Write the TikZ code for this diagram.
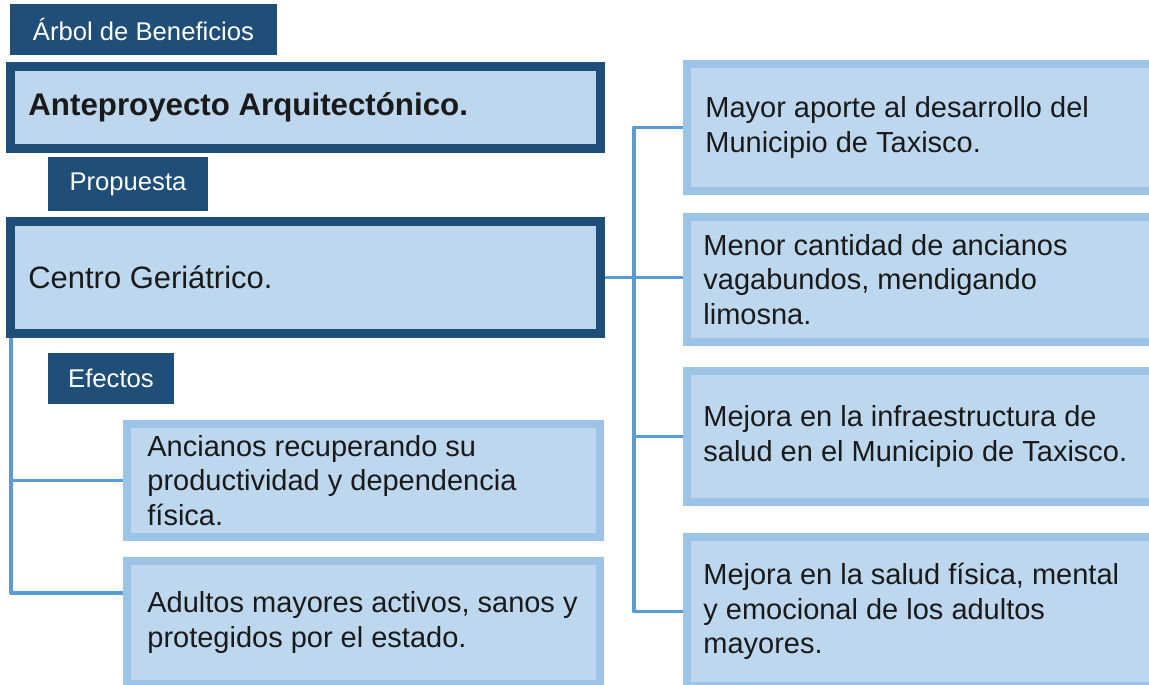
\documentclass[tikz,border=0pt]{standalone}
\usepackage{fontspec}
\setmainfont{Liberation Sans}
\usetikzlibrary{backgrounds}
\definecolor{darkblue}{HTML}{1F4E79}
\definecolor{lightfill}{HTML}{BDD7EE}
\definecolor{lightborder}{HTML}{9DC3E6}
\definecolor{connblue}{HTML}{5B9BD5}
\definecolor{txtcol}{HTML}{1A1A1A}
\begin{document}
\begin{tikzpicture}[x=0.02cm, y=-0.02cm,
  tag/.style={fill=darkblue, text=white, inner sep=0, font=\fontsize{14.6}{17}\selectfont},
  mainbox/.style={draw=darkblue, line width=0.18cm, fill=lightfill, inner sep=0},
  subbox/.style={draw=lightborder, line width=0.16cm, fill=lightfill, inner sep=0},
  body/.style={inner sep=0, align=left, text=txtcol, font=\fontsize{16.5}{19.6}\selectfont, anchor=west},
  conn/.style={draw=connblue, line width=0.065cm, line join=round}]
\useasboundingbox (0,0) rectangle (1149,684);
\begin{scope}[on background layer]
\fill[white] (0,0) rectangle (1149,684);
\end{scope}
\clip (0,0) rectangle (1149,684);

\node[tag, minimum width=5.34cm, minimum height=1.02cm] (arbol) at (143.5,29.5) {Árbol de Beneficios};
\node[mainbox, minimum width=11.8cm, minimum height=1.64cm] (ante) at (305.5,107.5) {};
\node[body, font=\bfseries\fontsize{17.8}{21}\selectfont] (antetxt) at ([xshift=0.44cm]ante.west) {Anteproyecto Arquitectónico.};
\node[tag, minimum width=3.2cm, minimum height=1.08cm] (prop) at (128,184) {Propuesta};
\node[mainbox, minimum width=11.8cm, minimum height=2.24cm] (centro) at (305.5,277.5) {};
\node[body, font=\fontsize{17.6}{21}\selectfont] (centrotxt) at ([xshift=0.44cm]centro.west) {Centro Geriátrico.};
\node[tag, minimum width=2.52cm, minimum height=1.02cm] (efec) at (111,378.5) {Efectos};

\node[subbox, minimum width=9.46cm, minimum height=2.26cm] (anc) at (363.5,480.5) {};
\node[body] (anctxt) at ([xshift=0.48cm]anc.west) {Ancianos recuperando su\\productividad y dependencia\\física.};
\node[subbox, minimum width=9.46cm, minimum height=2.46cm] (adu) at (363.5,622.5) {};
\node[body] (adutxt) at ([xshift=0.48cm]adu.west) {Adultos mayores activos, sanos y\\protegidos por el estado.};

\node[subbox, minimum width=11cm, minimum height=2.54cm] (r1) at (962,127.5) {};
\node[body] (r1txt) at ([xshift=0.44cm]r1.west) {Mayor aporte al desarrollo del\\Municipio de Taxisco.};
\node[subbox, minimum width=11cm, minimum height=2.5cm] (r2) at (962,279.5) {};
\node[body] (r2txt) at ([xshift=0.40cm]r2.west) {Menor cantidad de ancianos\\vagabundos, mendigando\\limosna.};
\node[subbox, minimum width=11cm, minimum height=2.62cm] (r3) at (962,436.5) {};
\node[body] (r3txt) at ([xshift=0.40cm]r3.west) {Mejora en la infraestructura de\\salud en el Municipio de Taxisco.};
\node[subbox, minimum width=11cm, minimum height=2.98cm] (r4) at (962,611.5) {};
\node[body] (r4txt) at ([xshift=0.40cm]r4.west) {Mejora en la salud física, mental\\y emocional de los adultos\\mayores.};

\begin{scope}[on background layer]
\coordinate (tx) at (634,0);
\coordinate (lb) at (11,593);
\draw[conn] (centro.east) -- (centro.east -| r2.west);
\draw[conn] (r1.west) -- (r1.west -| tx) -- (r4.west -| tx) -- (r4.west);
\draw[conn] (r3.west) -- (r3.west -| tx);
\draw[conn] (centro.south -| lb) -- (lb) -- (lb -| adu.west);
\draw[conn] (anc.west -| lb) -- (anc.west);
\end{scope}
\end{tikzpicture}
\end{document}
